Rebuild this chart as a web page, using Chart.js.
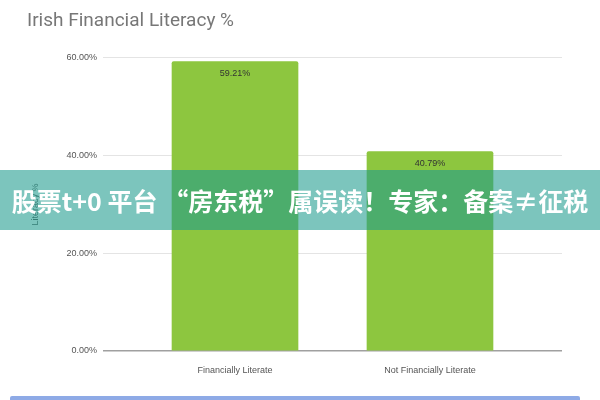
<!DOCTYPE html>
<html>
<head>
<meta charset="utf-8">
<script src="https://cdn.jsdelivr.net/npm/chart.js@4"></script>
<style>
  html, body { margin: 0; padding: 0; background: #fff; }
  #wrap { position: relative; width: 600px; height: 400px; overflow: hidden; }
  #banner {
    position: absolute; left: 0; top: 170px; width: 600px; height: 60px;
    background: rgba(29, 155, 141, 0.58);
    color: #fff; font-family: "Noto Sans CJK SC", sans-serif; font-weight: bold;
    font-size: 25px; line-height: 60px; text-align: center; white-space: nowrap;
  }
  #bottomLine {
    position: absolute; left: 10px; top: 396px; width: 570px; height: 4px;
    background: #8eaae6; border-radius: 2px 2px 0 0;
  }
</style>
</head>
<body>
<div id="wrap">
  <canvas id="literacyChart" width="600" height="400"></canvas>
  <div id="banner">股票t+0 平台 “房东税”属误读！专家：备案≠征税</div>
  <div id="bottomLine"></div>
</div>
<script>
var categories = ['Financially Literate', 'Not Financially Literate'];
var literacyPct = [59.21, 40.79];
var yTicks = [0, 20, 40, 60];

// draws the value label just inside the top of each bar
var barValueLabels = {
    id: 'barValueLabels',
    afterDatasetsDraw: function (chart) {
        var ctx = chart.ctx;
        var meta = chart.getDatasetMeta(0);
        ctx.save();
        ctx.font = '9px "Liberation Sans", Arial, sans-serif';
        ctx.fillStyle = '#333';
        ctx.textAlign = 'center';
        ctx.textBaseline = 'middle';
        meta.data.forEach(function (bar, i) {
            ctx.fillText(literacyPct[i].toFixed(2) + '%', bar.x, bar.y + 12);
        });
        ctx.restore();
    }
};

var ctx = document.getElementById('literacyChart').getContext('2d');
new Chart(ctx, {
    type: 'bar',
    data: {
        datasets: [{
            data: literacyPct.map(function (v, i) { return { x: i, y: v }; }),
            backgroundColor: '#8dc63f',
            borderRadius: 2,
            borderSkipped: 'bottom',
            barThickness: 126
        }]
    },
    options: {
        responsive: false,
        animation: false,
        layout: { padding: { left: 27, right: 38, top: 0, bottom: 0 } },
        plugins: {
            legend: { display: false },
            tooltip: { enabled: false },
            title: {
                display: true,
                text: 'Irish Financial Literacy %',
                align: 'start',
                color: '#777',
                font: { family: 'Roboto, sans-serif', size: 19, weight: 'normal' },
                padding: { top: 10, bottom: 25 }
            }
        },
        scales: {
            x: {
                type: 'linear',
                offset: false,
                min: -0.677,
                max: 1.677,
                grid: { display: false },
                border: { display: false },
                afterBuildTicks: function (scale) {
                    scale.ticks = categories.map(function (c, i) { return { value: i }; });
                },
                afterFit: function (scale) { scale.height = 49; },
                ticks: {
                    autoSkip: false,
                    maxRotation: 0,
                    padding: 6,
                    color: '#555',
                    font: { family: '"Liberation Sans", Arial, sans-serif', size: 9 },
                    callback: function (value) { return categories[value]; }
                }
            },
            y: {
                min: 0,
                max: 60,
                afterBuildTicks: function (scale) {
                    scale.ticks = yTicks.map(function (v) { return { value: v }; });
                },
                afterFit: function (scale) { scale.width = 76; },
                grid: {
                    drawTicks: false,
                    color: function (c) { return c.tick.value === 0 ? '#a0a0a0' : '#e4e4e4'; },
                    lineWidth: function (c) { return c.tick.value === 0 ? 1.5 : 1; }
                },
                border: { display: false },
                title: {
                    display: true,
                    text: 'Literacy %',
                    color: '#555',
                    font: { family: '"Liberation Sans", Arial, sans-serif', size: 9 },
                    padding: { top: 3, bottom: 0 }
                },
                ticks: {
                    padding: 6,
                    color: '#555',
                    font: { family: '"Liberation Sans", Arial, sans-serif', size: 9 },
                    callback: function (value) { return value.toFixed(2) + '%'; }
                }
            }
        }
    },
    plugins: [barValueLabels]
});
</script>
</body>
</html>
